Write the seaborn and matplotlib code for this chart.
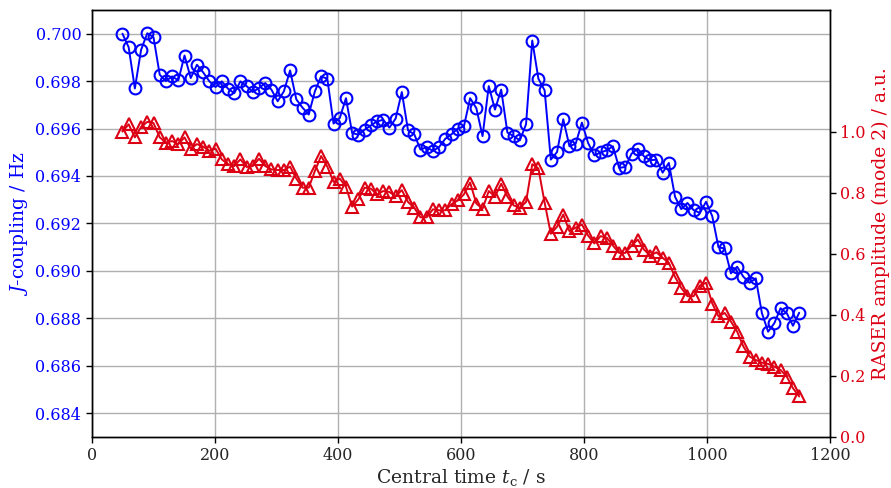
import numpy as np
import pandas as pd
import matplotlib
matplotlib.use("Agg")
import matplotlib.pyplot as plt
import seaborn as sns

time_s = [50.0, 60.1, 70.2, 80.3, 90.4, 100.5, 110.6, 120.6, 130.7, 140.8,
          150.9, 161.0, 171.1, 181.2, 191.3, 201.4, 211.5, 221.6, 231.7, 241.7,
          251.8, 261.9, 272.0, 282.1, 292.2, 302.3, 312.4, 322.5, 332.6, 342.7,
          352.8, 362.8, 372.9, 383.0, 393.1, 403.2, 413.3, 423.4, 433.5, 443.6,
          453.7, 463.8, 473.9, 483.9, 494.0, 504.1, 514.2, 524.3, 534.4, 544.5,
          554.6, 564.7, 574.8, 584.9, 595.0, 605.0, 615.1, 625.2, 635.3, 645.4,
          655.5, 665.6, 675.7, 685.8, 695.9, 706.0, 716.1, 726.1, 736.2, 746.3,
          756.4, 766.5, 776.6, 786.7, 796.8, 806.9, 817.0, 827.1, 837.2, 847.2,
          857.3, 867.4, 877.5, 887.6, 897.7, 907.8, 917.9, 928.0, 938.1, 948.2,
          958.3, 968.3, 978.4, 988.5, 998.6, 1008.7, 1018.8, 1028.9, 1039.0, 1049.1,
          1059.2, 1069.3, 1079.4, 1089.4, 1099.5, 1109.6, 1119.7, 1129.8, 1139.9, 1150.0]

j_coupling = [0.70000, 0.69943, 0.69769, 0.69932, 0.70002, 0.69985, 0.69827, 0.69800, 0.69820, 0.69803,
              0.69908, 0.69813, 0.69869, 0.69837, 0.69799, 0.69775, 0.69799, 0.69768, 0.69749, 0.69799,
              0.69779, 0.69754, 0.69771, 0.69792, 0.69764, 0.69715, 0.69757, 0.69845, 0.69723, 0.69688,
              0.69659, 0.69757, 0.69820, 0.69810, 0.69621, 0.69644, 0.69728, 0.69581, 0.69574, 0.69595,
              0.69613, 0.69630, 0.69637, 0.69604, 0.69642, 0.69754, 0.69592, 0.69576, 0.69511, 0.69522,
              0.69505, 0.69522, 0.69557, 0.69576, 0.69600, 0.69609, 0.69728, 0.69686, 0.69568, 0.69779,
              0.69680, 0.69764, 0.69583, 0.69568, 0.69550, 0.69618, 0.69971, 0.69810, 0.69761, 0.69469,
              0.69501, 0.69639, 0.69525, 0.69536, 0.69625, 0.69539, 0.69487, 0.69499, 0.69508, 0.69525,
              0.69434, 0.69438, 0.69494, 0.69515, 0.69483, 0.69466, 0.69469, 0.69414, 0.69455, 0.69312,
              0.69260, 0.69286, 0.69256, 0.69244, 0.69291, 0.69230, 0.69099, 0.69094, 0.68989, 0.69017,
              0.68975, 0.68949, 0.68968, 0.68821, 0.68743, 0.68779, 0.68842, 0.68821, 0.68768, 0.68823]

raser_amp = [1.001, 1.025, 0.982, 1.016, 1.033, 1.029, 0.982, 0.965, 0.970, 0.960,
             0.982, 0.945, 0.960, 0.952, 0.938, 0.945, 0.910, 0.894, 0.888, 0.910,
             0.885, 0.888, 0.912, 0.888, 0.877, 0.875, 0.875, 0.886, 0.847, 0.817,
             0.817, 0.872, 0.921, 0.886, 0.836, 0.847, 0.820, 0.755, 0.779, 0.817,
             0.814, 0.795, 0.806, 0.803, 0.789, 0.809, 0.770, 0.751, 0.720, 0.720,
             0.746, 0.743, 0.743, 0.763, 0.775, 0.795, 0.834, 0.765, 0.748, 0.806,
             0.788, 0.830, 0.788, 0.759, 0.751, 0.770, 0.894, 0.880, 0.768, 0.666,
             0.689, 0.729, 0.674, 0.686, 0.696, 0.660, 0.634, 0.658, 0.653, 0.627,
             0.603, 0.603, 0.627, 0.647, 0.614, 0.594, 0.605, 0.587, 0.570, 0.524,
             0.488, 0.461, 0.461, 0.496, 0.505, 0.437, 0.395, 0.406, 0.378, 0.345,
             0.296, 0.263, 0.252, 0.243, 0.239, 0.230, 0.219, 0.197, 0.159, 0.132]

j_ticks = [0.684, 0.686, 0.688, 0.690, 0.692, 0.694, 0.696, 0.698, 0.700]
r_ticks = [0.0, 0.2, 0.4, 0.6, 0.8, 1.0]
x_ticks = [0, 200, 400, 600, 800, 1000, 1200]

df = pd.DataFrame({"t": time_s, "J": j_coupling, "A": raser_amp})

sns.set_style("ticks")
plt.rcParams["font.family"] = ["DejaVu Serif"]
plt.rcParams["mathtext.fontset"] = "dejavuserif"

BLUE = "#0000ff"
RED = "#dc0014"

fig = plt.figure(figsize=(8.91, 4.88), dpi=100)
ax1 = fig.add_axes([0.1029, 0.1051, 0.8286, 0.8744])
ax2 = ax1.twinx()

sns.lineplot(data=df, x="t", y="J", ax=ax1, color=BLUE, lw=1.4,
             marker="o", markersize=8.5, markerfacecolor="none",
             markeredgecolor=BLUE, markeredgewidth=1.5, zorder=3)
sns.lineplot(data=df, x="t", y="A", ax=ax2, color=RED, lw=1.4,
             marker="^", markersize=8.5, markerfacecolor="none",
             markeredgecolor=RED, markeredgewidth=1.5, zorder=3)

ax1.set_xlim(0, 1200)
ax1.set_ylim(0.683, 0.701)
ax2.set_ylim(0.0, 1.4)
ax1.set_xticks(x_ticks)
ax1.set_yticks(j_ticks)
ax1.set_yticklabels([f"{v:.3f}" for v in j_ticks])
ax2.set_yticks(r_ticks)
ax2.set_yticklabels([f"{v:.1f}" for v in r_ticks])

ax1.grid(True, color="#b0b0b0", lw=1.0)
ax1.set_axisbelow(True)

ax1.set_xlabel(r"Central time $t_\mathrm{c}$ / s", fontsize=13.5, labelpad=2)
ax1.set_ylabel(r"$J$-coupling / Hz", fontsize=13.5, color=BLUE)
ax2.set_ylabel("RASER amplitude (mode 2) / a.u.", fontsize=13.5, color=RED)

ax1.tick_params(axis="y", colors=BLUE, labelsize=11.5)
ax1.tick_params(axis="x", labelsize=11.5)
ax2.tick_params(axis="y", colors=RED, labelsize=11.5)
for ax in (ax1, ax2):
    ax.tick_params(axis="both", which="major", length=4, width=1, color="black")
    for sp in ax.spines.values():
        sp.set_color("black")
        sp.set_linewidth(1.0)

fig.savefig("out.png", dpi=100)
